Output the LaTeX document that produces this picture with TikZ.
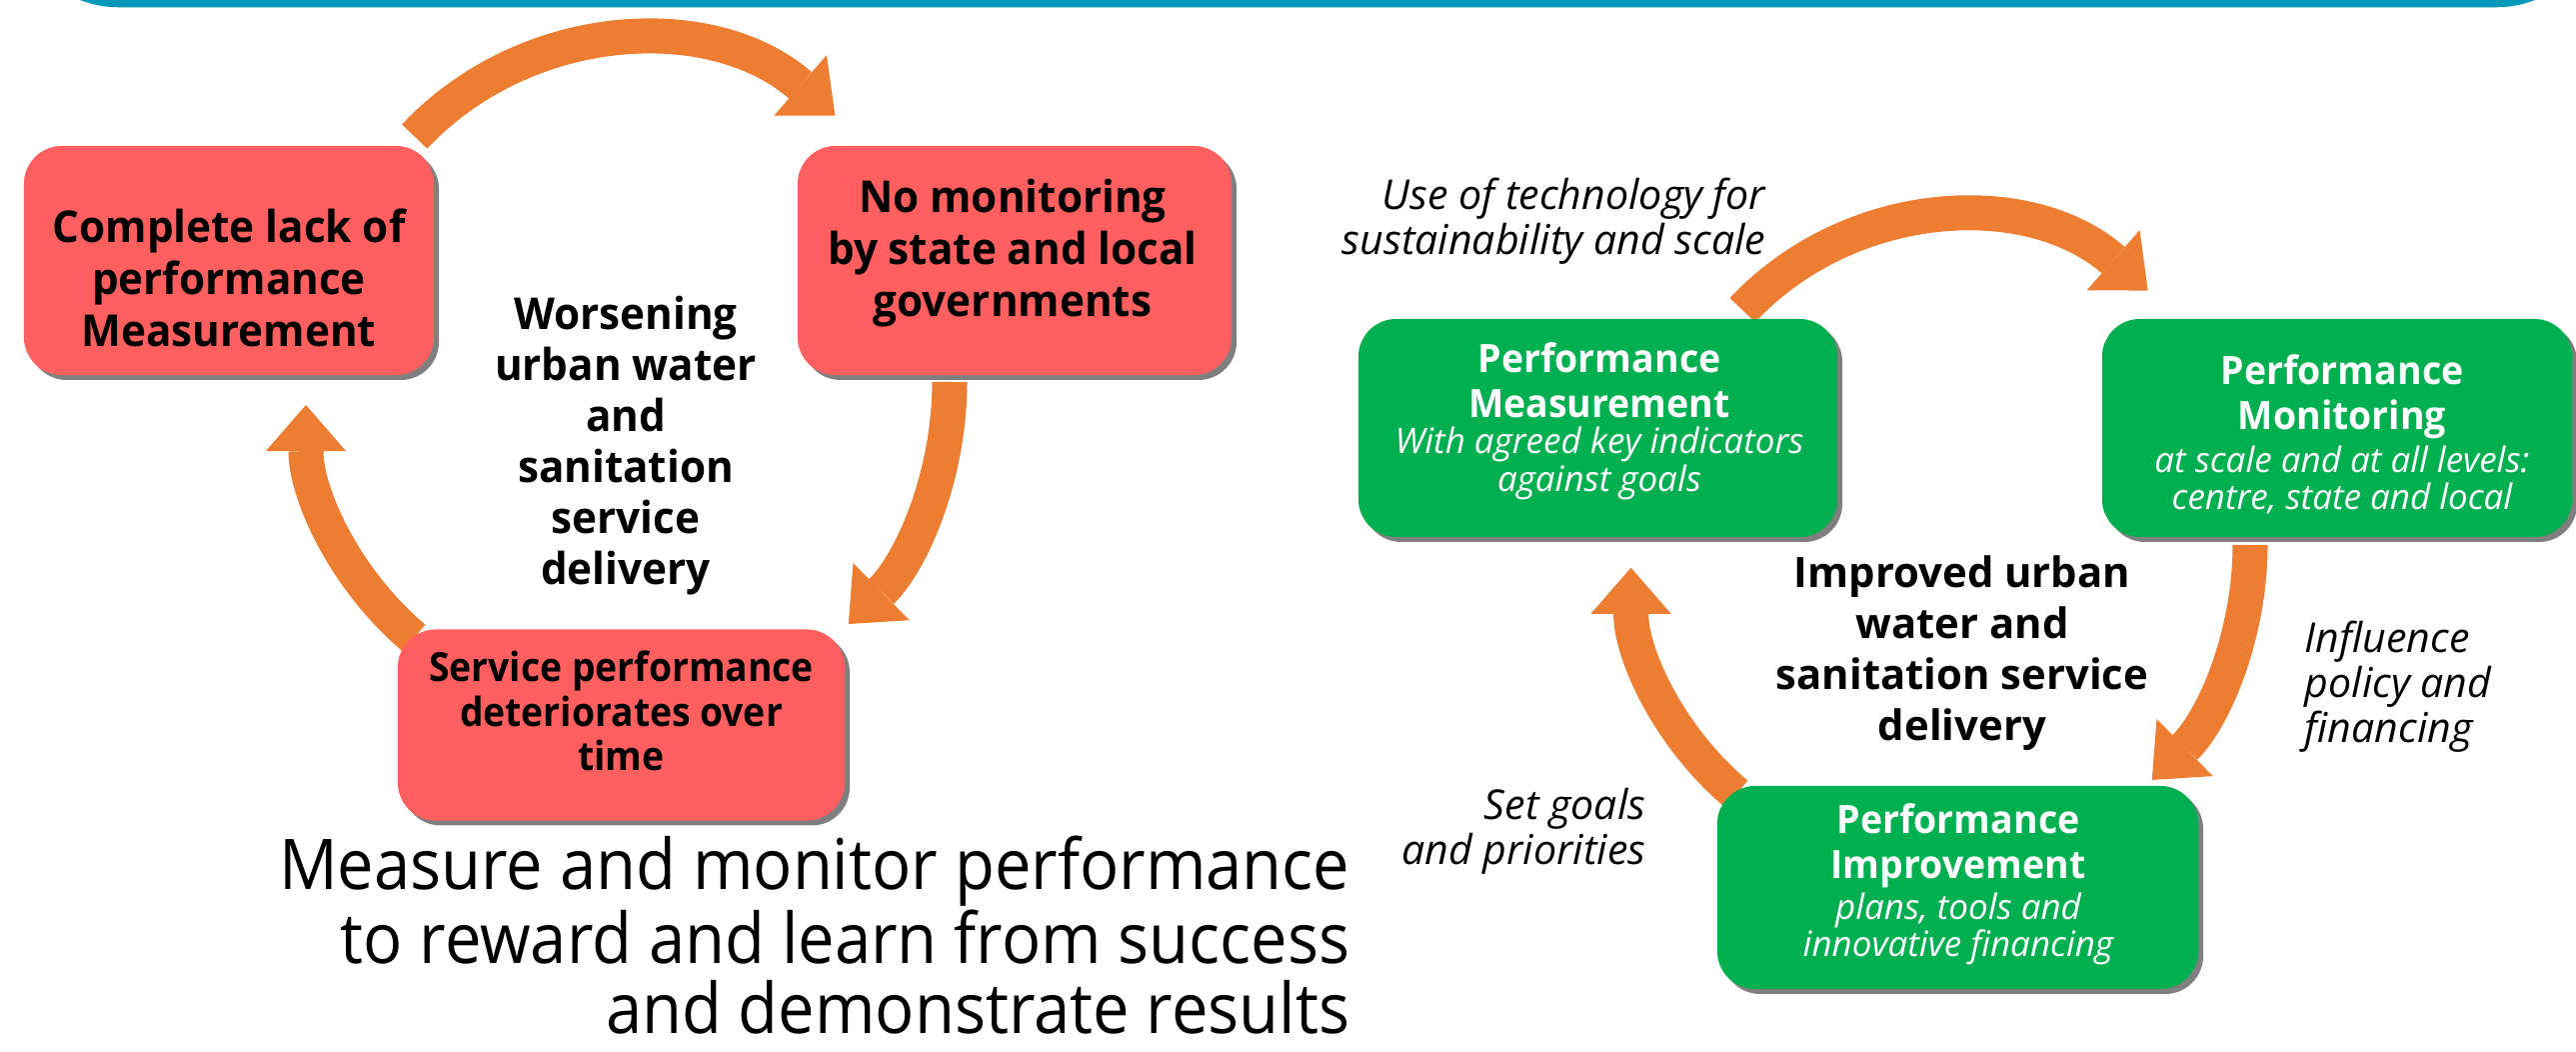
\documentclass[tikz,border=0pt]{standalone}
\usepackage{fontspec}
\setmainfont{Open Sans}
\newfontfamily\nfont{Open Sans}[FakeStretch=0.93]
\newfontfamily\mfont{Open Sans}[FakeStretch=0.96]
\usetikzlibrary{arrows.meta,shadows}
\definecolor{cRed}{HTML}{FF5F5F}
\definecolor{cGreen}{HTML}{00B050}
\definecolor{cOrange}{HTML}{ED7D31}
\definecolor{cTeal}{HTML}{0099B9}
\definecolor{cShadow}{HTML}{7F7F7F}
\tikzset{
  cyc/.style={draw=cOrange, line width=9.96pt,
    -{Triangle[length=13.1pt,width=22.8pt,line width=0pt]}},
  boxbase/.style={rounded corners=0.38cm, inner sep=0pt, draw=none,
    drop shadow={shadow xshift=1.4pt, shadow yshift=-1.4pt, fill=cShadow, opacity=1}},
  redbox/.style={boxbase, fill=cRed},
  greenbox/.style={boxbase, fill=cGreen},
  redtxt/.style={font=\mfont\bfseries\fontsize{12.5}{14.8}\selectfont, align=center, inner sep=0pt},
  redtxtsmall/.style={font=\nfont\bfseries\fontsize{11.4}{12.7}\selectfont, align=center, inner sep=0pt},
  midtxt/.style={font=\mfont\bfseries\fontsize{12.5}{14.5}\selectfont, align=center, inner sep=0pt},
  midtxtb/.style={font=\bfseries\fontsize{11.9}{14.5}\selectfont, align=center, inner sep=0pt},
  gtitle/.style={font=\mfont\bfseries\fontsize{11.1}{12.8}\selectfont, align=center, inner sep=0pt, text=white},
  gsub/.style={font=\itshape\fontsize{9.95}{10.6}\selectfont, align=center, inner sep=0pt, text=white},
  lbl/.style={font=\itshape\fontsize{11.7}{12.8}\selectfont, inner sep=0pt},
  bigtxt/.style={font=\nfont\fontsize{19.9}{19.9}\selectfont, align=right, inner sep=0pt}
}
\begin{document}
\begin{tikzpicture}[x=0.01cm,y=-0.01cm]
\useasboundingbox (0,0) rectangle (2577,1052);
% banner
\fill[cTeal, rounded corners=1.07cm] (12,-200) rectangle (2604,7.3);

% ---------- left cycle arrows ----------
\coordinate (La0) at (414.7,136.5); \coordinate (La1) at (835.4,115.6);
\coordinate (Lb0) at (950,382);     \coordinate (Lb1) at (848.8,624);
\coordinate (Lc0) at (414.1,638);   \coordinate (Lc1) at (306,405);
\draw[cyc] (La0) .. controls (526.5,17.9) and (712.4,8.6) .. (La1);
\draw[cyc] (Lb0) .. controls (950,473) and (913.6,560.1) .. (Lb1);
\draw[cyc] (Lc0) .. controls (345.5,580) and (306,494.8) .. (Lc1);

% ---------- right cycle arrows ----------
\coordinate (Ra0) at (1743.2,310.1); \coordinate (Ra1) at (2148.7,290.6);
\coordinate (Rb0) at (2251,545);     \coordinate (Rb1) at (2152.8,779.9);
\coordinate (Rc0) at (1737,793.9);   \coordinate (Rc1) at (1631.6,567.7);
\draw[cyc] (Ra0) .. controls (1851,195.3) and (2030.4,186.6) .. (Ra1);
\draw[cyc] (Rb0) .. controls (2251,633.3) and (2215.7,717.9) .. (Rb1);
\draw[cyc] (Rc0) .. controls (1670.2,737.8) and (1631.6,654.9) .. (Rc1);

% ---------- red boxes ----------
\node[redbox, minimum width=4.10cm, minimum height=2.29cm] (b1) at (229,260.5) {};
\node[redbox, minimum width=4.34cm, minimum height=2.29cm] (b2) at (1015,260.5) {};
\node[redbox, minimum width=4.47cm, minimum height=1.91cm] (b3) at (621.5,725) {};
\node[redtxt] (b1t) at (229,278) {Complete lack of\\performance\\Measurement};
\node[redtxt] (b2t) at (1013,253) {No monitoring\\by state and local\\governments};
\node[redtxtsmall] (b3t) at (621.5,711) {Service performance\\deteriorates over\\time};
\node[midtxt] (lc) at (626,446) {Worsening\\urban water\\and\\sanitation\\service\\delivery};
\node[bigtxt, anchor=east] (msg) at (1351,935) {Measure and monitor performance\\to reward and learn from success\\and demonstrate results};

% ---------- green boxes ----------
\node[greenbox, minimum width=4.79cm, minimum height=2.18cm] (g1) at (1598.5,428) {};
\node[greenbox, minimum width=4.70cm, minimum height=2.18cm] (g2) at (2338,428) {};
\node[greenbox, minimum width=4.81cm, minimum height=2.03cm] (g3) at (1958.5,887.5) {};
\node[gtitle] (g1a) at (1600,380) {Performance\\Measurement};
\node[gsub]   (g1b) at (1600,463.5) {With agreed key indicators\\against goals};
\node[gtitle] (g2a) at (2343,397) {Performance\\Monitoring};
\node[gsub]   (g2b) at (2343,480) {at scale and at all levels:\\centre, state and local};
\node[gtitle] (g3a) at (1959,845.5) {Performance\\Improvement};
\node[gsub]   (g3b) at (1959,929) {plans, tools and\\innovative financing};
\node[midtxtb] (rc) at (1963,653.5) {Improved urban\\water and\\sanitation service\\delivery};

% ---------- labels ----------
\node[lbl, align=right, anchor=east] (l1) at (1767,221.5) {Use of technology for\\sustainability and scale};
\node[lbl, align=right, anchor=east] (l2) at (1647,831.6) {Set goals\\and priorities};
\node[lbl, align=left, anchor=west] (l3) at (2305,687) {Influence\\policy and\\financing};
\end{tikzpicture}
\end{document}
